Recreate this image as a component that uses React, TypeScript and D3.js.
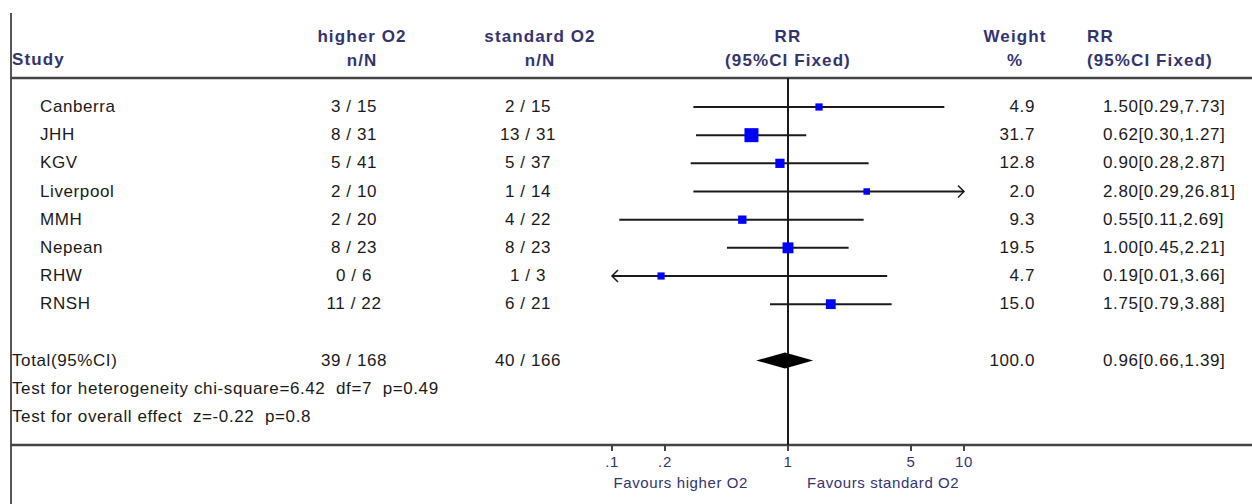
import React from 'react'
import * as d3 from 'd3'

const studies = ['Canberra', 'JHH', 'KGV', 'Liverpool', 'MMH', 'Nepean', 'RHW', 'RNSH']
const higherEvents = [3, 8, 5, 2, 2, 8, 0, 11]
const higherTotal = [15, 31, 41, 10, 20, 23, 6, 22]
const standardEvents = [2, 13, 5, 1, 4, 8, 1, 6]
const standardTotal = [15, 31, 37, 14, 22, 23, 3, 21]
const rr = [1.5, 0.62, 0.9, 2.8, 0.55, 1.0, 0.19, 1.75]
const rrLow = [0.29, 0.3, 0.28, 0.29, 0.11, 0.45, 0.01, 0.79]
const rrHigh = [7.73, 1.27, 2.87, 26.81, 2.69, 2.21, 3.66, 3.88]
const weights = [4.9, 31.7, 12.8, 2.0, 9.3, 19.5, 4.7, 15.0]

const total = { higher: [39, 168], standard: [40, 166], weight: 100.0, rr: 0.96, low: 0.66, high: 1.39 }
const heterogeneity = 'Test for heterogeneity chi-square=6.42  df=7  p=0.49'
const overall = 'Test for overall effect  z=-0.22  p=0.8'

const tickValues = [0.1, 0.2, 1, 5, 10]
const tickLabels = ['.1', '.2', '1', '5', '10']

const W = 1252
const H = 504
const navy = '#333370'
const ink = '#1a1a1a'
const body = { fontFamily: '"Liberation Sans", Arial, sans-serif', fontSize: 17, letterSpacing: 0.6, whiteSpace: 'pre' as const }
const head = { fontFamily: '"Liberation Sans", Arial, sans-serif', fontSize: 17, fontWeight: 700, letterSpacing: 1.1 }

export default function App() {
  const x = d3.scaleLog().domain([0.1, 10]).range([612, 964])
  const row = d3.scaleLinear().domain([0, 12]).range([107, 445])
  const size = d3.scaleLinear().domain([0, 31.7]).range([6, 14])
  const fmt = d3.format('.2f')
  const fmtW = d3.format('.1f')

  const axisY = row(12)
  const totY = row(9)

  const arrow = (xe: number, y: number, dir: number) =>
    `M${xe - dir * 6},${y - 6}L${xe},${y}L${xe - dir * 6},${y + 6}`

  return (
    <svg width={W} height={H} style={{ position: 'absolute', left: 0, top: 0, background: '#fff' }}>
      {/* frame */}
      <line x1={11} x2={11} y1={13} y2={H} stroke="#555" strokeWidth={2} />
      <line x1={11} x2={W} y1={78} y2={78} stroke="#444" strokeWidth={2.5} />
      <line x1={11} x2={W} y1={axisY} y2={axisY} stroke="#444" strokeWidth={2.5} />

      {/* header */}
      <g fill={navy} style={head}>
        <text x={12} y={65}>Study</text>
        <text x={362} y={42} textAnchor="middle">higher O2</text>
        <text x={362} y={66} textAnchor="middle">n/N</text>
        <text x={540} y={42} textAnchor="middle">standard O2</text>
        <text x={540} y={66} textAnchor="middle">n/N</text>
        <text x={x(1)} y={42} textAnchor="middle">RR</text>
        <text x={x(1)} y={66} textAnchor="middle">(95%CI Fixed)</text>
        <text x={1015} y={42} textAnchor="middle">Weight</text>
        <text x={1015} y={66} textAnchor="middle">%</text>
        <text x={1087} y={42}>RR</text>
        <text x={1087} y={66}>(95%CI Fixed)</text>
      </g>

      {/* reference line */}
      <line x1={x(1)} x2={x(1)} y1={78} y2={axisY} stroke={ink} strokeWidth={2} />

      {/* study rows */}
      {studies.map((s, i) => {
        const y = row(i)
        const lo = Math.max(rrLow[i], 0.1)
        const hi = Math.min(rrHigh[i], 10)
        const sz = size(weights[i])
        return (
          <g key={s}>
            <g fill={ink} style={body}>
              <text x={40} y={y + 5}>{s}</text>
              <text x={354} y={y + 5} textAnchor="middle">{`${higherEvents[i]} / ${higherTotal[i]}`}</text>
              <text x={528} y={y + 5} textAnchor="middle">{`${standardEvents[i]} / ${standardTotal[i]}`}</text>
              <text x={1035} y={y + 5} textAnchor="end">{fmtW(weights[i])}</text>
              <text x={1103} y={y + 5}>{`${fmt(rr[i])}[${fmt(rrLow[i])},${fmt(rrHigh[i])}]`}</text>
            </g>
            <line x1={x(lo)} x2={x(hi)} y1={y} y2={y} stroke={ink} strokeWidth={2} />
            {rrHigh[i] > 10 && <path d={arrow(x(10), y, 1)} fill="none" stroke={ink} strokeWidth={1.5} />}
            {rrLow[i] < 0.1 && <path d={arrow(x(0.1), y, -1)} fill="none" stroke={ink} strokeWidth={1.5} />}
            <rect x={x(rr[i]) - sz / 2} y={y - sz / 2} width={sz} height={sz} fill="#0000ff" />
          </g>
        )
      })}

      {/* total */}
      <g fill={ink} style={body}>
        <text x={12} y={totY + 5}>Total(95%CI)</text>
        <text x={354} y={totY + 5} textAnchor="middle">{`${total.higher[0]} / ${total.higher[1]}`}</text>
        <text x={528} y={totY + 5} textAnchor="middle">{`${total.standard[0]} / ${total.standard[1]}`}</text>
        <text x={1035} y={totY + 5} textAnchor="end">{fmtW(total.weight)}</text>
        <text x={1103} y={totY + 5}>{`${fmt(total.rr)}[${fmt(total.low)},${fmt(total.high)}]`}</text>
        <text x={12} y={row(10) + 5} xmlSpace="preserve">{heterogeneity}</text>
        <text x={12} y={row(11) + 5} xmlSpace="preserve">{overall}</text>
      </g>
      <path
        d={`M${x(total.low)},${totY}L${x(total.rr)},${totY - 8}L${x(total.high)},${totY}L${x(total.rr)},${totY + 8}Z`}
        fill="#000"
      />

      {/* axis */}
      {tickValues.map((t, i) => (
        <g key={t}>
          <line x1={x(t)} x2={x(t)} y1={axisY} y2={axisY + 6} stroke="#444" strokeWidth={2} />
          <text x={x(t)} y={467} textAnchor="middle" fill={navy} style={{ ...body, fontSize: 15 }}>
            {tickLabels[i]}
          </text>
        </g>
      ))}
      <g fill={navy} style={{ ...body, fontSize: 15 }}>
        <text x={748} y={488} textAnchor="end">Favours higher O2</text>
        <text x={807} y={488}>Favours standard O2</text>
      </g>
    </svg>
  )
}
